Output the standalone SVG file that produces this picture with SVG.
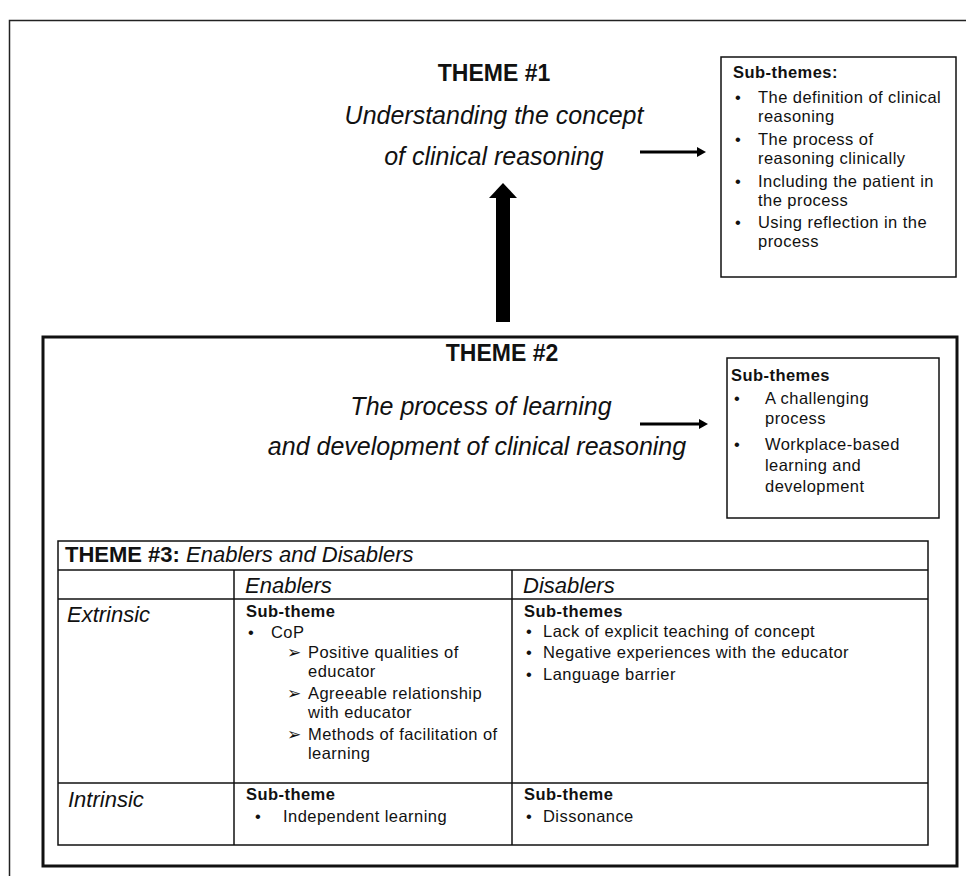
<svg xmlns="http://www.w3.org/2000/svg" width="966" height="876" viewBox="0 0 966 876">
<style>
text{font-family:"Liberation Sans",Arial,sans-serif;fill:#111}
.b{font-weight:bold}
.i{font-style:italic}
.big{font-size:25px}
.hd{font-size:23px;font-weight:bold}
.s{font-size:16.5px;letter-spacing:0.45px}
.t{font-size:22px}
.box{fill:#fff;stroke:#111;stroke-width:1.5}
.ln{stroke:#111;stroke-width:1.5;fill:none}
</style>
<rect width="966" height="876" fill="#fff"/>
<rect x="9.5" y="20.5" width="1000" height="1000" fill="none" stroke="#222" stroke-width="1.5"/>

<g id="theme1">
<text class="hd" x="494" y="81" text-anchor="middle">THEME #1</text>
<text class="big i" x="494" y="124" text-anchor="middle">Understanding the concept</text>
<text class="big i" x="494" y="165" text-anchor="middle">of clinical reasoning</text>
</g>

<g id="subthemes1">
<rect class="box" x="721" y="57" width="235" height="220"/>
<text class="s b" x="733" y="78">Sub-themes:</text>
<text class="s" x="735" y="103">•</text><text class="s" x="758" y="103">The definition of clinical</text>
<text class="s" x="758" y="122">reasoning</text>
<text class="s" x="735" y="145">•</text><text class="s" x="758" y="145">The process of</text>
<text class="s" x="758" y="164">reasoning clinically</text>
<text class="s" x="735" y="187">•</text><text class="s" x="758" y="187">Including the patient in</text>
<text class="s" x="758" y="206">the process</text>
<text class="s" x="735" y="228">•</text><text class="s" x="758" y="228">Using reflection in the</text>
<text class="s" x="758" y="247">process</text>
</g>

<g id="theme2">
<rect x="43" y="337" width="914" height="529" fill="none" stroke="#111" stroke-width="3"/>
<text class="hd" x="502" y="361" text-anchor="middle">THEME #2</text>
<text class="big i" x="481" y="415" text-anchor="middle">The process of learning</text>
<text class="big i" x="477" y="455" text-anchor="middle">and development of clinical reasoning</text>
</g>

<g id="subthemes2">
<rect class="box" x="727" y="358" width="212" height="160"/>
<text class="s b" x="731" y="381">Sub-themes</text>
<text class="s" x="734" y="404">•</text><text class="s" x="765" y="404">A challenging</text>
<text class="s" x="765" y="424">process</text>
<text class="s" x="734" y="450">•</text><text class="s" x="765" y="450">Workplace-based</text>
<text class="s" x="765" y="471">learning and</text>
<text class="s" x="765" y="492">development</text>
</g>

<g id="theme3">
<rect class="box" x="58" y="541" width="870" height="304"/>
<line class="ln" x1="58" y1="570" x2="928" y2="570"/>
<line class="ln" x1="58" y1="599" x2="928" y2="599"/>
<line class="ln" x1="58" y1="783" x2="928" y2="783"/>
<line class="ln" x1="234" y1="570" x2="234" y2="845"/>
<line class="ln" x1="512" y1="570" x2="512" y2="845"/>
<text class="t" x="65" y="562"><tspan class="b">THEME #3:</tspan><tspan class="i"> Enablers and Disablers</tspan></text>
<text class="t i" x="245" y="593">Enablers</text>
<text class="t i" x="523" y="593">Disablers</text>
<text class="t i" x="67" y="622">Extrinsic</text>
<text class="t i" x="68" y="807">Intrinsic</text>

<text class="s b" x="246" y="617">Sub-theme</text>
<text class="s" x="248" y="638">•</text><text class="s" x="271" y="638">CoP</text>
<text class="s" x="287" y="658">➢</text><text class="s" x="308" y="658">Positive qualities of</text>
<text class="s" x="308" y="677">educator</text>
<text class="s" x="287" y="699">➢</text><text class="s" x="308" y="699">Agreeable relationship</text>
<text class="s" x="308" y="718">with educator</text>
<text class="s" x="287" y="740">➢</text><text class="s" x="308" y="740">Methods of facilitation of</text>
<text class="s" x="308" y="759">learning</text>

<text class="s b" x="524" y="617">Sub-themes</text>
<text class="s" x="526" y="637">•</text><text class="s" x="543" y="637">Lack of explicit teaching of concept</text>
<text class="s" x="526" y="658">•</text><text class="s" x="543" y="658">Negative experiences with the educator</text>
<text class="s" x="526" y="680">•</text><text class="s" x="543" y="680">Language barrier</text>

<text class="s b" x="246" y="800">Sub-theme</text>
<text class="s" x="255" y="822">•</text><text class="s" x="283" y="822">Independent learning</text>
<text class="s b" x="524" y="800">Sub-theme</text>
<text class="s" x="526" y="822">•</text><text class="s" x="543" y="822">Dissonance</text>
</g>

<g id="connectors" fill="#000">
<rect x="640" y="150.5" width="58" height="3"/>
<polygon points="697,147 706,152 697,157"/>
<rect x="640" y="422.5" width="60" height="3"/>
<polygon points="699,419 708,424 699,429"/>
<rect x="496" y="197" width="14" height="125"/>
<polygon points="489,198 503,183 517,198"/>
</g>
</svg>
